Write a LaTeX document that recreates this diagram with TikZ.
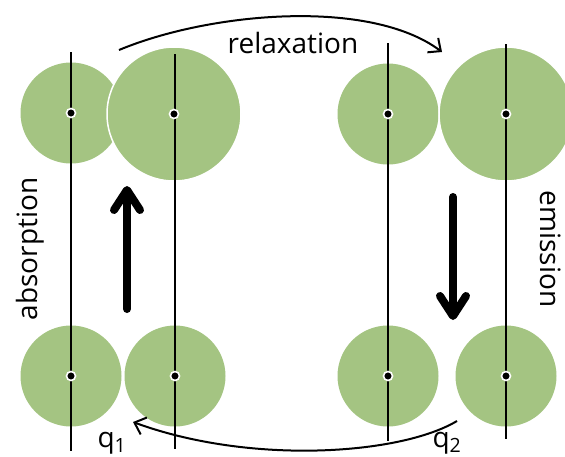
\documentclass[tikz,border=0pt]{standalone}
\usepackage{fontspec}
\setmainfont{Open Sans}
\usetikzlibrary{arrows.meta}
\definecolor{leaf}{RGB}{164,196,130}
\tikzset{
  atom/.style={circle, fill=leaf, inner sep=0pt, minimum size=#1},
  bigatom/.style={circle, fill=leaf, draw=white, line width=1.5pt, inner sep=0pt, minimum size=#1},
  axis/.style={black, line width=1.1pt},
  nucleus/.style={circle, fill=black, draw=white, line width=1.6pt, inner sep=0pt, minimum size=9pt},
  thin arrow/.style={line width=2pt, -{Straight Barb[length=10pt, width=18pt]}},
  thick arrow/.style={line width=8pt, line cap=round, -{Straight Barb[length={20pt 0}, width={26pt 0}, round]}},
  lbl/.style={font=\fontsize{28}{30}\selectfont, inner sep=0pt},
}
\begin{document}
\begin{tikzpicture}[x=1pt, y=-1pt]
\useasboundingbox (0,0) rectangle (565,456);
% top row
\node[atom=101pt] (tl1) at (71,113) {};
\node[bigatom=134pt] (tl2) at (174,114) {};
\node[atom=101pt] (tr1) at (388,114) {};
\node[bigatom=134pt] (tr2) at (506,114) {};
% bottom row
\node[atom=101pt] (bl1) at (71,376) {};
\node[atom=101pt] (bl2) at (175,376) {};
\node[atom=101pt] (br1) at (388,376) {};
\node[atom=101pt] (br2) at (506,376) {};
% axes
\coordinate (a1t) at (71,52);  \coordinate (a1b) at (71,451);
\coordinate (a2t) at (175,54); \coordinate (a2b) at (175,449);
\coordinate (a3t) at (388,43); \coordinate (a3b) at (388,441);
\coordinate (a4t) at (506,44); \coordinate (a4b) at (506,439);
\draw[axis] (a1t) -- (a1b);
\draw[axis] (a2t) -- (a2b);
\draw[axis] (a3t) -- (a3b);
\draw[axis] (a4t) -- (a4b);
% nuclei
\node[nucleus] (n1) at (tl1.center) {};
\node[nucleus] (n2) at (tl2.center) {};
\node[nucleus] (n3) at (tr1.center) {};
\node[nucleus] (n4) at (tr2.center) {};
\node[nucleus] (n5) at (bl1.center) {};
\node[nucleus] (n6) at (bl2.center) {};
\node[nucleus] (n7) at (br1.center) {};
\node[nucleus] (n8) at (br2.center) {};
% curved arrows
\coordinate (rs) at (119,50);
\coordinate (re) at (442,52);
\draw[thin arrow] (rs) .. controls (210,12) and (370,-2) .. (re);
\coordinate (qs) at (457,421);
\coordinate (qe) at (133,422);
\draw[thin arrow] (qs) .. controls (400,455) and (250,465) .. (qe);
% thick arrows
\coordinate (us) at (127,309);
\coordinate (ue) at (127,186);
\draw[thick arrow] (us) -- (ue);
\coordinate (ds) at (453,197);
\coordinate (de) at (453,320);
\draw[thick arrow] (ds) -- (de);
% labels
\node[lbl, anchor=base] (relax) at (293,53) {relaxation};
\node[lbl, anchor=base, rotate=90] (absorb) at (37,249) {absorption};
\node[lbl, anchor=base, rotate=-90] (emit) at (540,249) {emission};
\node[lbl, anchor=base] (q1) at (112,447) {q\textsubscript{1}};
\node[lbl, anchor=base] (q2) at (447,447) {q\textsubscript{2}};
\end{tikzpicture}
\end{document}
